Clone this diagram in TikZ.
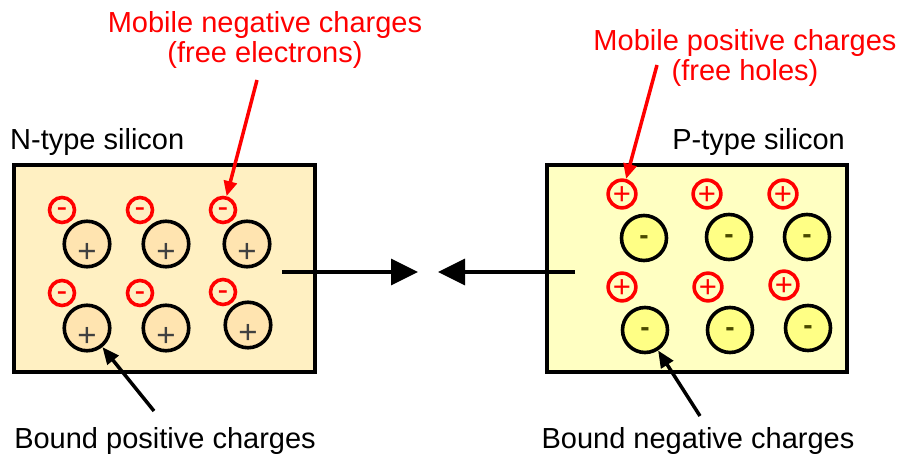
\documentclass[tikz,border=0pt]{standalone}
\usepackage{fontspec}
\setmainfont{Liberation Sans}
\usetikzlibrary{arrows.meta}
\definecolor{nbg}{HTML}{FFF0C2}
\definecolor{nion}{HTML}{FFE4B0}
\definecolor{pbg}{HTML}{FFFFC2}
\definecolor{pion}{HTML}{FFFF85}
\definecolor{olive}{HTML}{4A4A00}
\definecolor{plusgray}{HTML}{404040}
\definecolor{myred}{HTML}{FF0000}
\begin{document}
\begin{tikzpicture}[x=1pt,y=-1pt,
  lbl/.style={font=\fontsize{29}{30}\selectfont, inner sep=0pt, anchor=base},
  redlbl/.style={lbl, text=myred},
  box/.style={draw=black, line width=3.5pt, rectangle, inner sep=0pt, minimum width=#1, minimum height=207pt},
  nelec/.style={circle, draw=myred, line width=3.6pt, fill=nbg, minimum size=25pt, inner sep=0pt,
    text=myred, font=\fontsize{32}{32}\selectfont, text height=16pt, text depth=0pt},
  phole/.style={circle, draw=myred, line width=3.6pt, fill=pbg, minimum size=25.5pt, inner sep=0pt,
    text=myred, font=\fontsize{31}{31}\selectfont, text height=21pt, text depth=0pt},
  nion/.style={circle, draw=black, line width=3.6pt, fill=nion, minimum size=45.5pt, inner sep=0pt,
    text=plusgray, font=\fontsize{33}{33}\selectfont, text height=37pt, text depth=0pt},
  pion/.style={circle, draw=black, line width=3.6pt, fill=pion, minimum size=45pt, inner sep=0pt,
    text=olive, font=\bfseries\fontsize{28}{28}\selectfont, text height=13pt, text depth=0pt},
  bigarrow/.style={draw=black, line width=3.3pt, -{Triangle[length=27pt,width=26pt]}},
  redarrow/.style={draw=myred, line width=3.5pt, -{Triangle[length=15pt,width=13pt]}},
  blkarrow/.style={draw=black, line width=3.5pt, -{Triangle[length=17pt,width=14pt]}}
]
\useasboundingbox (0,0) rectangle (901,454);

% boxes
\node[box=301pt, fill=nbg] (nbox) at (164.5,268.5) {};
\node[box=300pt, fill=pbg] (pbox) at (697,268.5) {};

% N-type charges
\node[nelec] (e1) at (62,210) {-};
\node[nelec] (e2) at (140,210) {-};
\node[nelec] (e3) at (223,210) {-};
\node[nelec] (e4) at (62,293) {-};
\node[nelec] (e5) at (140,293) {-};
\node[nelec] (e6) at (223,292) {-};
\node[nion] (d1) at (87,244) {+};
\node[nion] (d2) at (166,244) {+};
\node[nion] (d3) at (247,244) {+};
\node[nion] (d4) at (87,328) {+};
\node[nion] (d5) at (166,328) {+};
\node[nion] (d6) at (248,325) {+};

% P-type charges
\node[phole] (h1) at (622,194) {+};
\node[phole] (h2) at (707,194) {+};
\node[phole] (h3) at (783,194) {+};
\node[phole] (h4) at (622,287) {+};
\node[phole] (h5) at (708,287) {+};
\node[phole] (h6) at (784,285) {+};
\node[pion] (a1) at (644,238) {-};
\node[pion] (a2) at (729,237) {-};
\node[pion] (a3) at (807,237) {-};
\node[pion] (a4) at (645,330) {-};
\node[pion] (a5) at (730,330) {-};
\node[pion] (a6) at (808,328) {-};

% labels
\node[lbl, anchor=base west] (ntype) at (10,150) {N-type silicon};
\node[lbl, anchor=base east] (ptype) at (845,150) {P-type silicon};
\node[redlbl] (mneg1) at (265,33) {Mobile negative charges};
\node[redlbl] (mneg2) at (265,63) {(free electrons)};
\node[redlbl] (mpos1) at (745,51) {Mobile positive charges};
\node[redlbl] (mpos2) at (745,81) {(free holes)};
\node[lbl] (bpos) at (165,448) {Bound positive charges};
\node[lbl] (bneg) at (698,448) {Bound negative charges};

% arrow end points
\coordinate (nstart) at (282,272);
\coordinate (nend) at (418,272);
\coordinate (pstart) at (575,272);
\coordinate (pend) at (438,272);
\coordinate (rnt) at (257,80);
\coordinate (rpt) at (657,65);
\coordinate (bnt) at (154,411);
\coordinate (bpt) at (700,416);

% connectors
\draw[bigarrow] (nstart) -- (nend);
\draw[bigarrow] (pstart) -- (pend);
\draw[redarrow] (rnt) -- (e3);
\draw[redarrow] (rpt) -- (h1);
\draw[blkarrow] (bnt) -- (d4);
\draw[blkarrow] (bpt) -- (a4);
\end{tikzpicture}
\end{document}
